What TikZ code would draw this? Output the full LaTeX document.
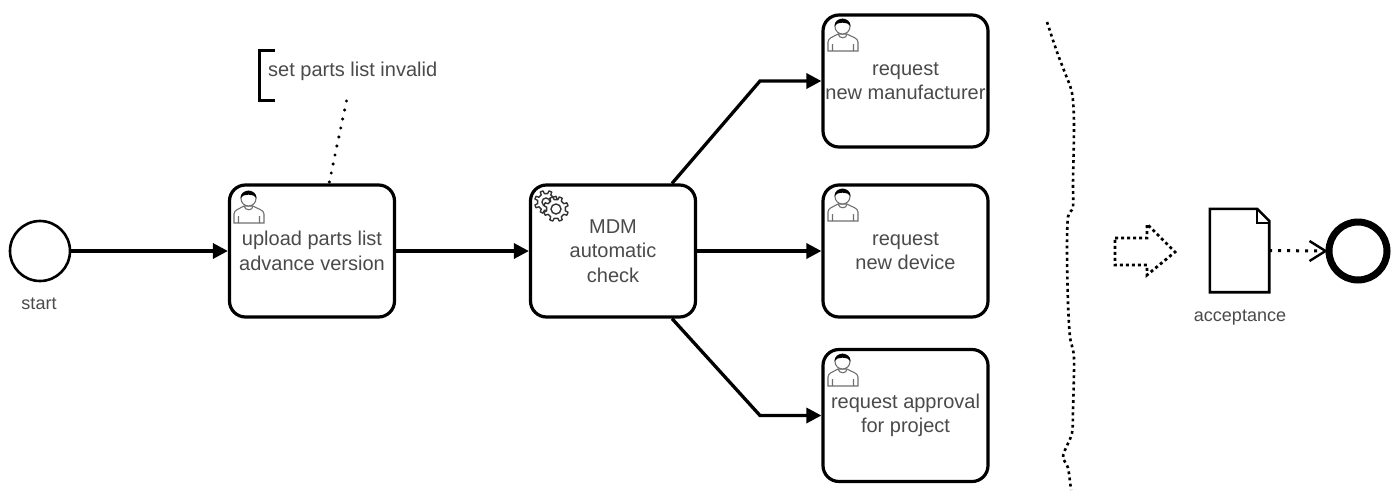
\documentclass[tikz,border=0pt]{standalone}
\usepackage{fontspec}
\setmainfont{Liberation Sans}
\usetikzlibrary{arrows.meta,calc}
\definecolor{txt}{HTML}{4A4A4A}
\definecolor{icon}{HTML}{707070}
\newcommand{\gearshape}[2]{% radius, hole
  \draw[black!80,line width=1.4pt,fill=white,line join=round]
    (11:#1) \foreach \a in {0,45,...,315}{
      -- ({\a+11}:#1) -- ({\a+15}:#1+3) -- ({\a+30}:#1+3) -- ({\a+34}:#1)
    } -- cycle;
  \draw[black!80,line width=1.4pt] (0,0) circle (#2pt);
}
\tikzset{
  x=1pt,y=-1pt,
  task/.style={draw=black,line width=3.2pt,rounded corners=16pt,fill=white,minimum width=165pt,minimum height=132pt,inner sep=0pt,align=center,text=txt,font=\fontsize{20}{24.5}\selectfont},
  label/.style={text=txt,font=\fontsize{18}{20}\selectfont,inner sep=0pt},
  flow/.style={line width=3.3pt,-{Triangle[length=15pt,width=15pt]}},
  dots/.style={line width=2.6pt,dash pattern=on 2.8pt off 3.4pt},
  usericon/.pic={
    \draw[icon,line width=1.1pt,fill=white] (1,33) -- (1,24) .. controls (1,20) and (6,19) .. (11,16) -- (20,16) .. controls (25,19) and (31,20) .. (31,24) -- (31,33) -- cycle;
    \draw[icon,line width=1.1pt] (5.5,33) -- (5.5,26) (26.5,33) -- (26.5,26) (11,16) .. controls (12,21) and (20,21) .. (20,16);
    \draw[icon,line width=1.1pt,fill=white] (15.5,8.5) circle (7.5pt);
    \fill[black] (7.5,8) .. controls (7.5,-1.5) and (23.5,-1.5) .. (23.5,8) .. controls (21,3.5) and (10,3.5) .. (7.5,8) -- cycle;
  },
  gearicon/.pic={
    \begin{scope}[shift={(546,202)}]\gearshape{8.5}{4}\end{scope}
    \begin{scope}[shift={(556,209)}]\gearshape{9.5}{5}\end{scope}
  }
}
\begin{document}
\begin{tikzpicture}
\useasboundingbox (0,0) rectangle (1398,491);
% events
\node[draw=black,line width=2.6pt,circle,minimum size=60pt,inner sep=0pt,fill=white] (start) at (40,251) {};
\node[label] (startlabel) at (39,304) {start};
\node[draw=black,line width=7pt,circle,minimum size=58pt,inner sep=0pt,fill=white] (end) at (1358,251) {};
% tasks
\node[task] (upload) at (312,251) {upload parts list\\advance version};
\node[task] (check) at (613,251) {MDM\\automatic\\check};
\node[task] (manufacturer) at (905.5,81) {request\\new manufacturer};
\node[task] (device) at (905.5,251) {request\\new device};
\node[task] (approval) at (905.5,415.5) {request approval\\for project};
% icons
\pic at (233,190) {usericon};
\pic at (0,0) {gearicon};
\pic at (827,18) {usericon};
\pic at (827,188) {usericon};
\pic at (827,353) {usericon};
% flows
\draw[flow] (start) -- (upload);
\draw[flow] (upload) -- (check);
\draw[flow] (check) -- (device);
\coordinate (upbend) at (760,81);
\coordinate (lowbend) at (760,415.5);
\draw[flow] ([xshift=59pt]check.north) -- (upbend) -- (manufacturer.west);
\draw[flow] ([xshift=59pt]check.south) -- (lowbend) -- (approval.west);
% annotation
\node[anchor=west,inner sep=0pt,text=txt,font=\fontsize{20}{24}\selectfont] (note) at (268,71) {set parts list invalid};
\draw[line width=3pt] (275,50) -- (259.5,50) -- (259.5,100) -- (275,100);
\coordinate (noteend) at (346.5,101);
\draw[line width=3.4pt,line cap=round,dash pattern=on 0pt off 9.2pt] (noteend) -- ([xshift=17pt]upload.north);
% squiggle
\draw[dots] plot[smooth,tension=0.5] coordinates {(1047,22) (1057,52) (1065,73) (1072,93) (1074,123) (1073,183) (1073,207) (1068,217) (1067,250) (1068,303) (1070,337) (1074,358) (1073,410) (1072,433) (1065,450) (1063,458) (1068,468) (1071,490)};
% block arrow
\draw[line width=2.8pt,dash pattern=on 3pt off 3pt] (1115,238) -- (1147,238) -- (1147,224) -- (1175,252) -- (1147,275) -- (1147,265) -- (1115,265) -- cycle;
% document
\node[minimum width=59pt,minimum height=83pt,inner sep=0pt] (doc) at (1239.5,250.5) {};
\draw[line width=2.6pt,line join=miter] (doc.south west) -- (doc.north west) -- ([xshift=-12pt]doc.north east) -- ([yshift=-12pt]doc.north east) -- (doc.south east) -- cycle;
\draw[line width=1.6pt] ([xshift=-12pt]doc.north east) -- ([xshift=-12pt,yshift=-14pt]doc.north east) -- ([yshift=-14pt]doc.north east);
\node[label] (doclabel) at (1240,318) {acceptance};
\draw[line width=3pt,dash pattern=on 3pt off 6pt] (doc.east) -- (end.west);
\path (end.west) coordinate (tip) (tip) ++(-16,-10) coordinate (barbA) (tip) ++(-16,10) coordinate (barbB);
\draw[line width=2.4pt] (barbA) -- (tip) -- (barbB);
\end{tikzpicture}
\end{document}
